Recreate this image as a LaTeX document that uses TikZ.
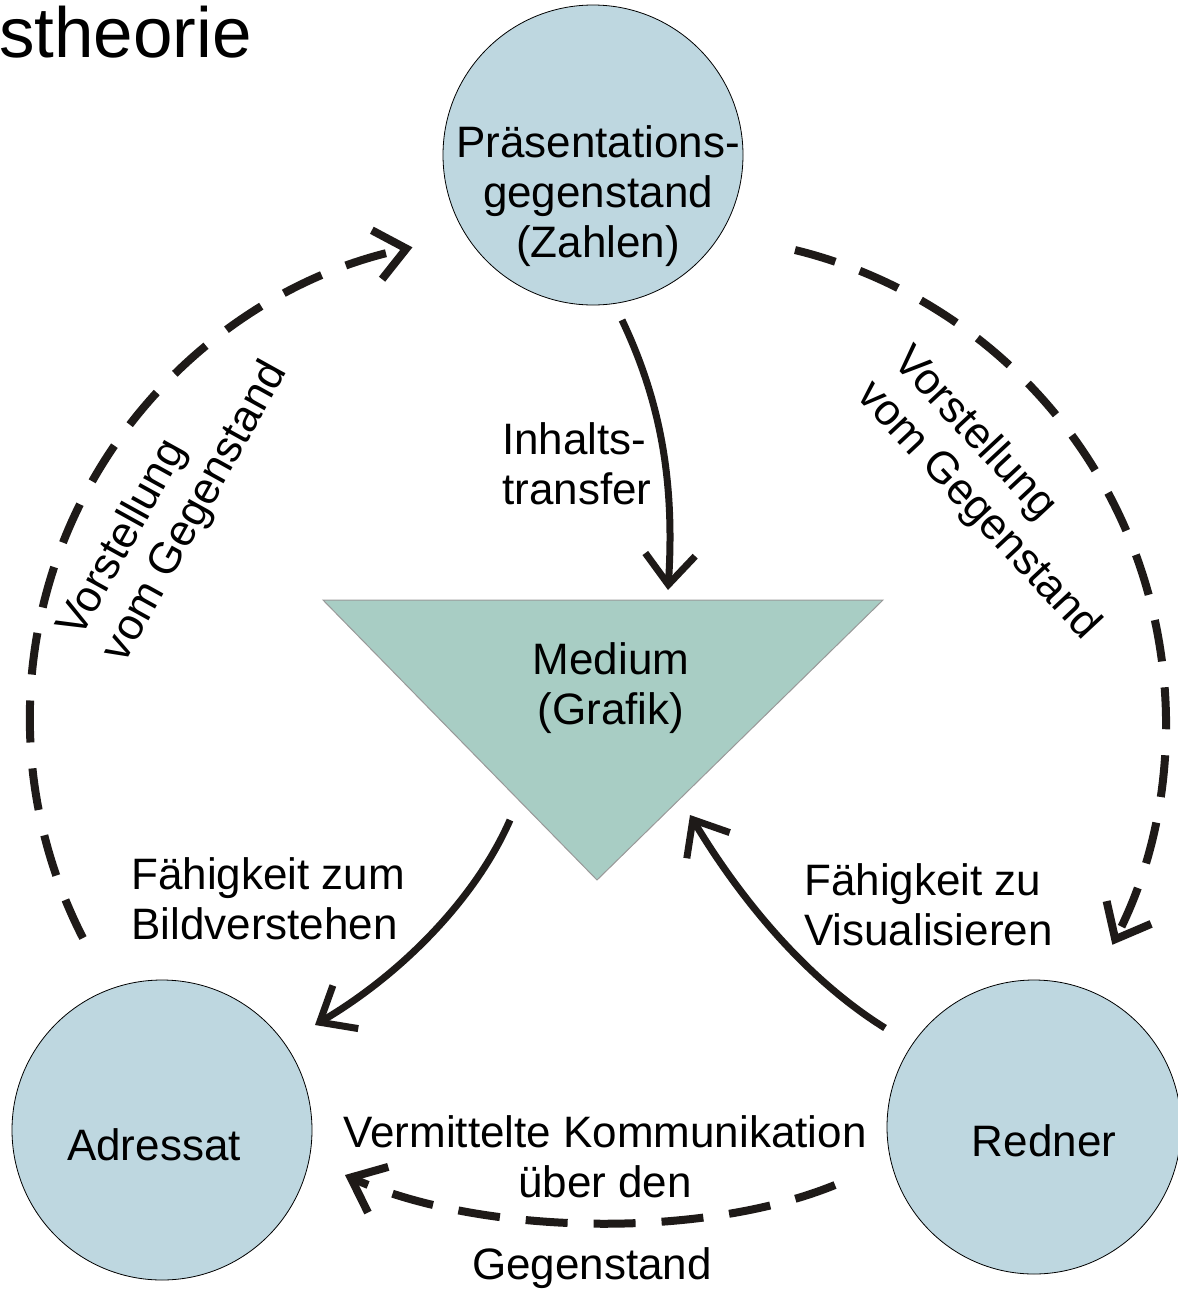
\documentclass[tikz,border=0pt]{standalone}
\usepackage{fontspec}
\setmainfont{Liberation Sans}
\usetikzlibrary{arrows.meta}
\definecolor{circblue}{RGB}{190,215,224}
\definecolor{trigreen}{RGB}{168,205,196}
\definecolor{inkblack}{RGB}{30,26,24}
\begin{document}
\begin{tikzpicture}[x=1pt,y=-1pt,
  circ/.style={circle, draw=black, line width=0.8pt, fill=circblue, inner sep=0},
  lbl/.style={font=\fontsize{44}{50}\selectfont, inner sep=0, text=black},
  solidarr/.style={draw=inkblack, line width=7pt, -{Straight Barb[length=30pt,width=50pt]}},
  dasharr/.style={draw=inkblack, line width=8pt, dash pattern=on 42pt off 26pt, -{Straight Barb[length=30pt,width=50pt]}}]
\useasboundingbox (0,0) rectangle (1178,1291);
% title
\node[font=\fontsize{71}{74}\selectfont, anchor=base east, inner sep=0] (title) at (252,57) {stheorie};
% circles
\node[circ, minimum size=300pt] (top) at (593,155) {};
\node[circ, minimum size=300pt] (adr) at (162,1130) {};
\node[circ, minimum size=294pt] (red) at (1034,1127) {};
% triangle
\path[fill=trigreen, draw=gray!80, line width=1pt] (323,600) coordinate (triL) -- (883,600) coordinate (triR) -- (597,880) coordinate (triB) -- cycle;
% texts
\node[lbl, align=center] (toptext) at (598,196) {Präsentations-\\gegenstand\\(Zahlen)};
\node[lbl, align=center] (medtext) at (611,688) {Medium\\(Grafik)};
\node[lbl] (adrtext) at (154,1145) {Adressat};
\node[lbl] (redtext) at (1044,1141) {Redner};
\node[lbl, align=left, anchor=west] (inhalt) at (502,464) {Inhalts-\\transfer};
\node[lbl, align=left, anchor=west] (bildv) at (131,899) {Fähigkeit zum\\Bildverstehen};
\node[lbl, align=left, anchor=west] (visu) at (804,905) {Fähigkeit zu\\Visualisieren};
\node[lbl, align=center] (verm) at (605,1157) {Vermittelte Kommunikation\\über den};
\node[lbl] (gegen) at (592,1268) {Gegenstand};
\node[lbl, align=left, rotate=61] (vorL) at (174,500) {Vorstellung\\vom Gegenstand};
\node[lbl, align=left, rotate=-47] (vorR) at (996,494) {Vorstellung\\vom Gegenstand};
% connector end points
\coordinate (inS) at (622,320);
\coordinate (inE) at (668,590);
\coordinate (bvS) at (510,820);
\coordinate (bvE) at (315,1025);
\coordinate (rvS) at (885,1028);
\coordinate (rvE) at (690,815);
\coordinate (vkS) at (835,1185);
\coordinate (vkE) at (345,1175);
\coordinate (lS) at (83,938);
\coordinate (rS) at (795,250);
% solid arrows
\draw[solidarr] (inS) .. controls (660,400) and (675,480) .. (inE);
\draw[solidarr] (bvS) .. controls (475,900) and (400,975) .. (bvE);
\draw[solidarr] (rvS) .. controls (800,975) and (735,890) .. (rvE);
% dashed arrows
\draw[dasharr] (vkS) .. controls (700,1240) and (480,1235) .. (vkE);
\draw[dasharr] (lS) arc[start angle=152.8, end angle=258.2, radius=481];
\draw[dasharr] (rS) arc[start angle=-76.2, end angle=27.1, radius=487];
\end{tikzpicture}
\end{document}
